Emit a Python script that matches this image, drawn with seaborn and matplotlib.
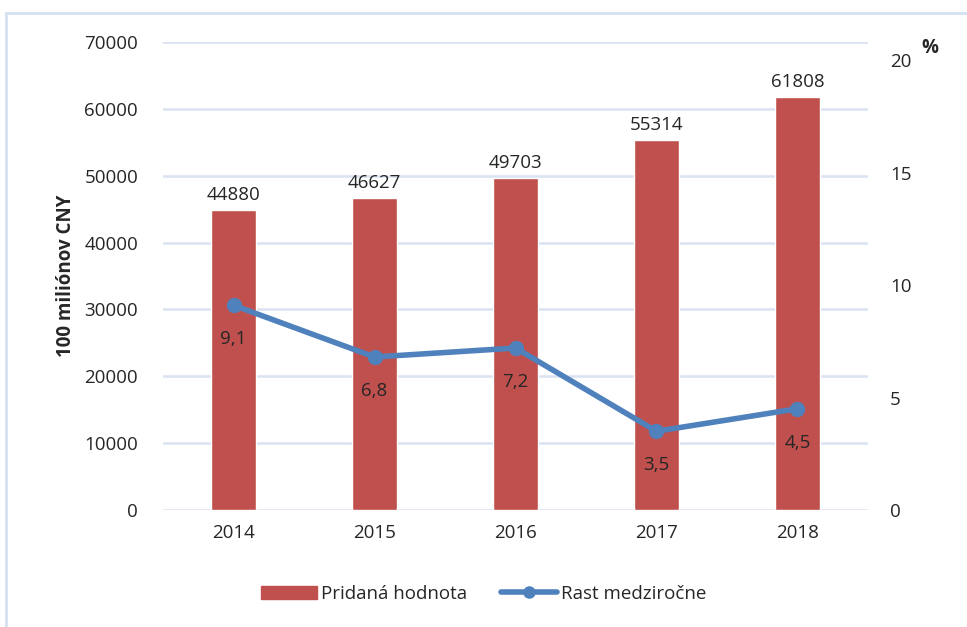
import numpy as np
import pandas as pd
import matplotlib.pyplot as plt
import seaborn as sns
from matplotlib.patches import Rectangle
from matplotlib.lines import Line2D
from matplotlib.patches import Patch

years = ["2014", "2015", "2016", "2017", "2018"]
pridana = [44880, 46627, 49703, 55314, 61808]
rast = [9.1, 6.8, 7.2, 3.5, 4.5]

bar_col = "#C0504D"
line_col = "#4F81BD"
grid_col = "#D9E3F1"

sns.set_style("white")
plt.rcParams['font.family'] = ['Open Sans', 'DejaVu Sans']

df = pd.DataFrame({"rok": years, "hodnota": pridana, "rast": rast})

fig = plt.figure(figsize=(9.67, 6.27), dpi=100)
ax = fig.add_axes([0.1686, 0.1866, 0.729, 0.7464])

sns.barplot(data=df, x="rok", y="hodnota", color=bar_col, width=0.32,
            saturation=1, ax=ax, zorder=2)
ax.set_ylim(0, 70000)
ax.set_yticks(np.arange(0, 70001, 10000))
ax.set_xlim(-0.5, 4.5)
ax.yaxis.grid(True, color=grid_col, linewidth=1.8, zorder=0)
ax.set_axisbelow(True)
ax.set_xlabel("")
ax.set_ylabel("100 miliónov CNY", fontsize=13.5, fontweight="bold", labelpad=6)
ax.tick_params(axis="both", length=0, labelsize=13.5)
ax.tick_params(axis="x", pad=10)
ax.tick_params(axis="y", pad=18)
for s in ax.spines.values():
    s.set_visible(False)
for i, v in enumerate(pridana):
    ax.text(i, v + 900, str(v), ha="center", va="bottom", fontsize=13.5)

ax2 = ax.twinx()
sns.pointplot(data=df, x="rok", y="rast", color=line_col, markers="o",
              markersize=8, linewidth=4, ax=ax2)
ax2.set_ylim(0, 20.8)
ax2.set_yticks([0, 5, 10, 15, 20])
ax2.set_xlim(-0.5, 4.5)
ax2.set_ylabel("")
ax2.set_xlabel("")
ax2.tick_params(axis="y", length=0, labelsize=13.5, pad=16)
for s in ax2.spines.values():
    s.set_visible(False)
for i, v in enumerate(rast):
    ax2.text(i, v - 1.1, f"{v:.1f}".replace(".", ","), ha="center", va="top", fontsize=13.5)
fig.text(0.962, 0.915, "%", fontsize=13.5, fontweight="bold", ha="center")

handles = [Patch(color=bar_col, label="Pridaná hodnota"),
           Line2D([0], [0], color=line_col, lw=4, marker="o", markersize=8,
                  label="Rast medziročne")]
fig.legend(handles=handles, loc="center", bbox_to_anchor=(0.5, 0.053), ncol=2,
           frameon=False, fontsize=13.5, handlelength=3.0, handletextpad=0.2,
           columnspacing=1.8)

fig.patches.append(Rectangle((0.006, -0.01), 1.2, 0.99, transform=fig.transFigure,
                             fill=False, edgecolor="#D5E1F0", linewidth=2))

fig.savefig("out.png", dpi=100)
